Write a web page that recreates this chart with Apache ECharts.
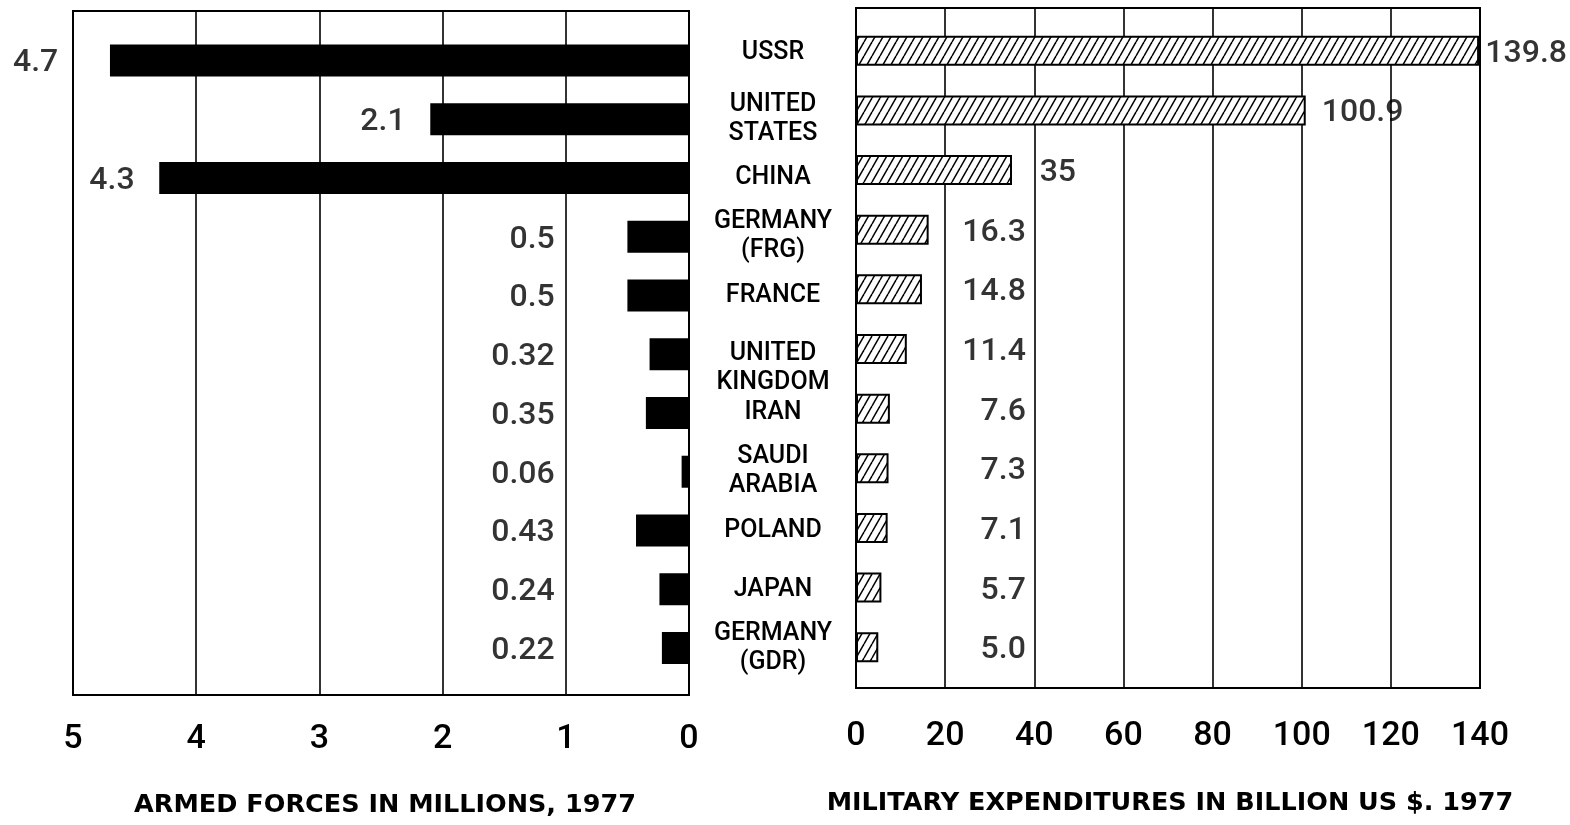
<!DOCTYPE html>
<html>
<head>
<meta charset="utf-8">
<script src="https://cdn.jsdelivr.net/npm/echarts@6/dist/echarts.min.js"></script>
<style>
html,body{margin:0;padding:0;background:#fff;}
#chart{width:1570px;height:825px;}
</style>
</head>
<body>
<div id="chart"></div>
<script>
// ---- data ----
const categories = ['USSR', 'UNITED\nSTATES', 'CHINA', 'GERMANY\n(FRG)', 'FRANCE', 'UNITED\nKINGDOM', 'IRAN', 'SAUDI\nARABIA', 'POLAND', 'JAPAN', 'GERMANY\n(GDR)'];
const armedForces = [4.7, 2.1, 4.3, 0.5, 0.5, 0.32, 0.35, 0.06, 0.43, 0.24, 0.22];
const expenditures = [139.8, 100.9, 35, 16.3, 14.8, 11.4, 7.6, 7.3, 7.1, 5.7, 5.0];
const expenditureLabels = ['139.8', '100.9', '35', '16.3', '14.8', '11.4', '7.6', '7.3', '7.1', '5.7', '5.0'];
const forcesTicks = [0, 1, 2, 3, 4, 5];
const spendTicks = [0, 20, 40, 60, 80, 100, 120, 140];
const leftTitle = 'ARMED FORCES IN MILLIONS, 1977';
const rightTitle = 'MILITARY EXPENDITURES IN BILLION US $. 1977';

// ---- hatch pattern ----
const hatch = document.createElement('canvas');
hatch.width = 8; hatch.height = 14;
const hctx = hatch.getContext('2d');
hctx.fillStyle = '#fff'; hctx.fillRect(0, 0, 8, 14);
hctx.strokeStyle = '#000'; hctx.lineWidth = 1.5;
[-8, 0, 8].forEach(function (o) {
  hctx.beginPath(); hctx.moveTo(o, 14); hctx.lineTo(o + 8, 0); hctx.stroke();
});

const FONT = 'Roboto';
const numStyle = { fontFamily: FONT, fontSize: 32, fontWeight: 500, color: '#000' };

// label anchors (in axis units)
const leftAnchor = armedForces.map(function (v) {
  if (v < 1) return 1.09;
  if (v > 4.5) return 5.12;
  return v + 0.2;
});
const rightAnchor = expenditures.map(function (v) {
  if (v < 30) return 38.1;
  if (v > 120) return 141.2;
  if (v > 100) return v + 3.6;
  return v + 6.2;
});

const chart = echarts.init(document.getElementById('chart'), null, { renderer: 'canvas' });
const option = {
  animation: false,
  backgroundColor: '#fff',
  grid: [
    { left: 73, right: 881, top: 11, bottom: 130, show: true, borderColor: '#000', borderWidth: 2, backgroundColor: 'transparent' },
    { left: 73, right: 881, top: 31, bottom: 147.6 },
    { left: 856, right: 90, top: 8, bottom: 137, show: true, borderColor: '#000', borderWidth: 2, backgroundColor: 'transparent' },
    { left: 856, right: 90, top: 21, bottom: 148 }
  ],
  xAxis: [
    {
      gridIndex: 0, type: 'value', inverse: true,
      min: forcesTicks[0], max: forcesTicks[forcesTicks.length - 1], interval: forcesTicks[1] - forcesTicks[0],
      axisLine: { show: true, lineStyle: { color: '#000', width: 2 } },
      axisTick: { show: false },
      splitLine: { show: true, lineStyle: { color: '#000', width: 1.6 } },
      axisLabel: { margin: 27, fontFamily: FONT, fontSize: 34, fontWeight: 500, color: '#000', showMinLabel: true, showMaxLabel: true }
    },
    { gridIndex: 1, type: 'value', inverse: true, min: forcesTicks[0], max: forcesTicks[forcesTicks.length - 1], show: false },
    {
      gridIndex: 2, type: 'value',
      min: spendTicks[0], max: spendTicks[spendTicks.length - 1], interval: spendTicks[1] - spendTicks[0],
      axisLine: { show: true, lineStyle: { color: '#000', width: 2 } },
      axisTick: { show: false },
      splitLine: { show: true, lineStyle: { color: '#000', width: 1.6 } },
      axisLabel: { margin: 31, fontFamily: FONT, fontSize: 34, fontWeight: 500, color: '#000', showMinLabel: true, showMaxLabel: true }
    },
    { gridIndex: 3, type: 'value', min: spendTicks[0], max: spendTicks[spendTicks.length - 1], show: false }
  ],
  yAxis: [
    { gridIndex: 0, type: 'value', show: false },
    {
      gridIndex: 1, type: 'category', inverse: true, data: categories, position: 'right',
      axisLine: { show: false }, axisTick: { show: false }, splitLine: { show: false },
      axisLabel: {
        margin: 84, align: 'center', fontFamily: FONT, fontSize: 25, fontWeight: 500, lineHeight: 29, color: '#000', interval: 0,
        formatter: function (v) {
          if (v === 'UNITED\nKINGDOM') return ' \n' + v;
          if (v === 'USSR') return '{up|' + v + '}';
          return v;
        },
        rich: { up: { fontFamily: FONT, fontSize: 25, fontWeight: 500, color: '#000', padding: [0, 0, 16, 0] } }
      }
    },
    { gridIndex: 2, type: 'value', show: false },
    { gridIndex: 3, type: 'category', inverse: true, data: categories, show: false }
  ],
  series: [
    {
      type: 'bar', xAxisIndex: 1, yAxisIndex: 1, data: armedForces, barWidth: 32,
      itemStyle: { color: '#000' }
    },
    {
      type: 'bar', xAxisIndex: 3, yAxisIndex: 3, data: expenditures, barWidth: 30,
      itemStyle: { color: { image: hatch, repeat: 'repeat' }, borderColor: '#000', borderWidth: 2 }
    },
    {
      type: 'scatter', xAxisIndex: 1, yAxisIndex: 1, symbolSize: 0, clip: false, silent: true,
      data: armedForces.map(function (v, i) { return [leftAnchor[i], i, String(v)]; }),
      label: Object.assign({ show: true, position: 'left', distance: 0, offset: [0, 3], formatter: function (p) { return p.value[2]; } }, numStyle)
    },
    {
      type: 'scatter', xAxisIndex: 3, yAxisIndex: 3, symbolSize: 0, clip: false, silent: true,
      data: expenditures.map(function (v, i) {
        return {
          value: [rightAnchor[i], i, expenditureLabels[i]],
          label: { position: v < 30 ? 'left' : 'right', distance: 0 }
        };
      }),
      label: Object.assign({ show: true, offset: [0, 3], formatter: function (p) { return p.value[2]; } }, numStyle)
    }
  ],
  graphic: [
    { type: 'text', x: 385, y: 805, style: { text: leftTitle, textAlign: 'center', textVerticalAlign: 'middle', fontFamily: 'DejaVu Sans', fontWeight: 'bold', fontSize: 25.5, fill: '#000' } },
    { type: 'text', x: 1170, y: 803, style: { text: rightTitle, textAlign: 'center', textVerticalAlign: 'middle', fontFamily: 'DejaVu Sans', fontWeight: 'bold', fontSize: 25.5, fill: '#000' } }
  ]
};
chart.setOption(option);
</script>
</body>
</html>
